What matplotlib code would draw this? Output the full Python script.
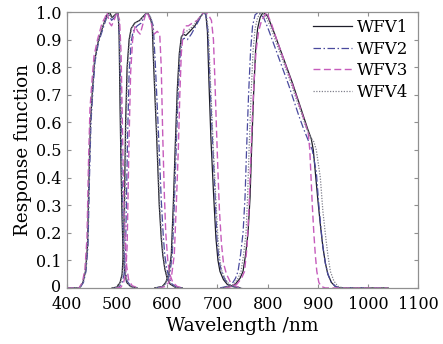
import matplotlib
matplotlib.use("Agg")
import matplotlib.pyplot as plt
import matplotlib.transforms as mtransforms

plt.rcParams['font.family'] = ['DejaVu Serif']
plt.rcParams['mathtext.fontset'] = 'dejavuserif'

series_names = ["WFV1", "WFV2", "WFV3", "WFV4"]
x_ticks = [400, 500, 600, 700, 800, 900, 1000, 1100]
y_ticks = [0, 0.1, 0.2, 0.3, 0.4, 0.5, 0.6, 0.7, 0.8, 0.9, 1.0]
y_tick_labels = ["0", "0.1", "0.2", "0.3", "0.4", "0.5", "0.6", "0.7", "0.8", "0.9", "1.0"]

# ---- WFV1 ----
wfv1_b1_wl = [400, 425, 432, 437, 441, 444, 447, 451, 455, 462, 472, 480, 485, 490, 496, 502, 504, 506, 508, 510, 512, 515, 519, 527, 540]
wfv1_b1_r = [0, 0, 0.02, 0.06, 0.15, 0.4, 0.6, 0.72, 0.82, 0.89, 0.95, 0.99, 1.0, 0.98, 0.99, 1.0, 0.92, 0.65, 0.42, 0.25, 0.13, 0.06, 0.02, 0.005, 0]
wfv1_b2_wl = [490, 500, 506, 510, 513, 515, 517, 520, 524, 528, 535, 545, 555, 560, 566, 570, 573, 576, 579, 584, 588, 591, 595, 599, 605, 615, 630]
wfv1_b2_r = [0, 0.003, 0.02, 0.05, 0.15, 0.35, 0.6, 0.8, 0.9, 0.94, 0.96, 0.97, 0.99, 1.0, 0.98, 0.95, 0.8, 0.67, 0.54, 0.3, 0.18, 0.12, 0.07, 0.04, 0.015, 0.003, 0]
wfv1_b3_wl = [575, 590, 597, 603, 608, 612, 616, 620, 624, 628, 632, 637, 645, 655, 665, 673, 677, 680, 683, 687, 692, 697, 701, 705, 712, 720, 730, 745]
wfv1_b3_r = [0, 0.005, 0.02, 0.05, 0.12, 0.3, 0.52, 0.72, 0.85, 0.91, 0.92, 0.915, 0.93, 0.95, 0.98, 1.0, 0.99, 0.93, 0.75, 0.54, 0.35, 0.18, 0.1, 0.06, 0.03, 0.012, 0.005, 0]
wfv1_b4_wl = [710, 725, 735, 745, 751, 756, 761, 765, 768, 772, 776, 780, 785, 791, 800, 810, 820, 830, 840, 850, 860, 870, 880, 887, 891, 895, 900, 905, 910, 915, 920, 927, 935, 945, 1040]
wfv1_b4_r = [0, 0.005, 0.012, 0.035, 0.06, 0.12, 0.2, 0.33, 0.5, 0.7, 0.86, 0.94, 0.98, 1.0, 0.985, 0.94, 0.89, 0.84, 0.79, 0.74, 0.685, 0.63, 0.575, 0.54, 0.5, 0.42, 0.32, 0.23, 0.15, 0.09, 0.05, 0.02, 0.005, 0, 0]

# ---- WFV2 ----
wfv2_b1_wl = [400, 426, 433, 438, 442, 445, 448, 452, 456, 463, 472, 479, 484, 489, 495, 501, 504, 507, 509, 511, 513, 516, 520, 528, 540]
wfv2_b1_r = [0, 0, 0.02, 0.06, 0.15, 0.4, 0.6, 0.72, 0.82, 0.89, 0.94, 0.98, 0.99, 0.97, 0.98, 1.0, 0.95, 0.75, 0.5, 0.3, 0.16, 0.07, 0.025, 0.005, 0]
wfv2_b2_wl = [495, 504, 510, 514, 517, 519, 521, 524, 528, 532, 540, 548, 556, 560, 567, 572, 576, 580, 583, 588, 592, 595, 599, 603, 609, 618, 630]
wfv2_b2_r = [0, 0.003, 0.02, 0.05, 0.15, 0.35, 0.55, 0.78, 0.89, 0.93, 0.95, 0.96, 0.99, 1.0, 0.98, 0.95, 0.82, 0.66, 0.54, 0.32, 0.19, 0.12, 0.07, 0.04, 0.015, 0.003, 0]
wfv2_b3_wl = [578, 592, 599, 605, 610, 614, 618, 622, 626, 630, 634, 640, 648, 657, 666, 672, 677, 681, 685, 690, 695, 699, 703, 708, 715, 723, 733, 745]
wfv2_b3_r = [0, 0.005, 0.02, 0.05, 0.12, 0.3, 0.52, 0.72, 0.85, 0.9, 0.905, 0.9, 0.92, 0.95, 0.98, 1.0, 0.99, 0.93, 0.75, 0.54, 0.35, 0.18, 0.1, 0.06, 0.03, 0.012, 0.005, 0]
wfv2_b4_wl = [705, 718, 728, 736, 741, 746, 751, 755, 758, 762, 766, 770, 775, 782, 792, 802, 812, 822, 832, 842, 852, 862, 872, 882, 889, 893, 897, 902, 906, 910, 915, 920, 927, 935, 945, 1040]
wfv2_b4_r = [0, 0.005, 0.012, 0.035, 0.06, 0.12, 0.2, 0.33, 0.5, 0.7, 0.86, 0.95, 0.99, 1.0, 0.98, 0.935, 0.885, 0.835, 0.785, 0.735, 0.68, 0.625, 0.575, 0.53, 0.5, 0.46, 0.42, 0.3, 0.22, 0.15, 0.09, 0.05, 0.02, 0.006, 0, 0]

# ---- WFV3 ----
wfv3_b1_wl = [400, 424, 431, 436, 440, 443, 446, 450, 454, 461, 470, 476, 480, 485, 489, 494, 500, 505, 508, 510, 512, 514, 516, 519, 523, 530, 542]
wfv3_b1_r = [0, 0, 0.02, 0.07, 0.18, 0.45, 0.65, 0.75, 0.84, 0.9, 0.96, 0.98, 1.0, 0.96, 0.95, 0.97, 1.0, 0.97, 0.85, 0.65, 0.45, 0.3, 0.18, 0.08, 0.03, 0.008, 0]
wfv3_b2_wl = [498, 508, 513, 517, 520, 522, 524, 527, 531, 536, 541, 546, 552, 558, 562, 568, 574, 580, 585, 588, 591, 594, 597, 601, 605, 611, 620, 632]
wfv3_b2_r = [0, 0.003, 0.02, 0.05, 0.15, 0.35, 0.55, 0.78, 0.9, 0.95, 0.93, 0.92, 0.96, 1.0, 0.99, 0.96, 0.92, 0.93, 0.92, 0.8, 0.55, 0.35, 0.2, 0.1, 0.05, 0.02, 0.005, 0]
wfv3_b3_wl = [582, 596, 603, 609, 614, 618, 622, 625, 628, 632, 636, 642, 650, 660, 668, 675, 682, 688, 692, 695, 698, 701, 704, 708, 712, 718, 726, 736, 750]
wfv3_b3_r = [0, 0.005, 0.02, 0.05, 0.12, 0.3, 0.5, 0.7, 0.85, 0.93, 0.95, 0.95, 0.96, 0.97, 0.99, 1.0, 0.99, 0.97, 0.9, 0.75, 0.58, 0.42, 0.28, 0.16, 0.09, 0.05, 0.02, 0.006, 0]
wfv3_b4_wl = [715, 728, 738, 748, 754, 759, 763, 766, 769, 773, 777, 782, 788, 798, 808, 818, 828, 838, 848, 858, 868, 876, 881, 884, 886, 889, 892, 895, 898, 902, 907, 915, 1040]
wfv3_b4_r = [0, 0.005, 0.012, 0.035, 0.06, 0.15, 0.3, 0.45, 0.6, 0.75, 0.86, 0.93, 0.97, 1.0, 0.955, 0.9, 0.85, 0.795, 0.745, 0.69, 0.635, 0.59, 0.56, 0.5, 0.42, 0.3, 0.2, 0.12, 0.06, 0.02, 0.005, 0, 0]

# ---- WFV4 ----
wfv4_b1_wl = [400, 425, 432, 437, 441, 444, 447, 451, 455, 462, 472, 480, 485, 490, 496, 502, 505, 507, 509, 511, 513, 516, 520, 528, 540]
wfv4_b1_r = [0, 0, 0.02, 0.06, 0.15, 0.4, 0.6, 0.72, 0.82, 0.89, 0.95, 0.98, 0.99, 0.98, 0.99, 1.0, 0.92, 0.65, 0.42, 0.25, 0.13, 0.06, 0.02, 0.005, 0]
wfv4_b2_wl = [491, 501, 507, 511, 514, 516, 518, 521, 525, 529, 536, 546, 556, 561, 567, 571, 574, 577, 580, 585, 589, 592, 596, 600, 606, 616, 630]
wfv4_b2_r = [0, 0.003, 0.02, 0.05, 0.15, 0.35, 0.6, 0.8, 0.9, 0.94, 0.96, 0.97, 0.99, 1.0, 0.98, 0.95, 0.8, 0.67, 0.54, 0.3, 0.18, 0.12, 0.07, 0.04, 0.015, 0.003, 0]
wfv4_b3_wl = [577, 591, 598, 604, 609, 613, 617, 621, 625, 629, 633, 638, 646, 656, 666, 674, 678, 682, 686, 691, 696, 701, 705, 709, 716, 724, 734, 748]
wfv4_b3_r = [0, 0.005, 0.02, 0.05, 0.12, 0.3, 0.52, 0.72, 0.85, 0.91, 0.925, 0.93, 0.94, 0.96, 0.985, 1.0, 0.99, 0.93, 0.75, 0.54, 0.35, 0.18, 0.1, 0.06, 0.03, 0.012, 0.005, 0]
wfv4_b4_wl = [708, 722, 732, 741, 747, 752, 757, 760, 763, 767, 771, 775, 780, 787, 796, 806, 816, 826, 836, 846, 856, 866, 876, 886, 892, 897, 901, 905, 910, 916, 920, 925, 932, 940, 950, 1040]
wfv4_b4_r = [0, 0.005, 0.012, 0.035, 0.06, 0.12, 0.2, 0.33, 0.5, 0.7, 0.86, 0.94, 0.98, 1.0, 0.985, 0.945, 0.895, 0.845, 0.795, 0.745, 0.69, 0.64, 0.585, 0.545, 0.53, 0.5, 0.45, 0.4, 0.28, 0.18, 0.12, 0.06, 0.025, 0.006, 0, 0]

series_bands = [
    [(wfv1_b1_wl, wfv1_b1_r), (wfv1_b2_wl, wfv1_b2_r), (wfv1_b3_wl, wfv1_b3_r), (wfv1_b4_wl, wfv1_b4_r)],
    [(wfv2_b1_wl, wfv2_b1_r), (wfv2_b2_wl, wfv2_b2_r), (wfv2_b3_wl, wfv2_b3_r), (wfv2_b4_wl, wfv2_b4_r)],
    [(wfv3_b1_wl, wfv3_b1_r), (wfv3_b2_wl, wfv3_b2_r), (wfv3_b3_wl, wfv3_b3_r), (wfv3_b4_wl, wfv3_b4_r)],
    [(wfv4_b1_wl, wfv4_b1_r), (wfv4_b2_wl, wfv4_b2_r), (wfv4_b3_wl, wfv4_b3_r), (wfv4_b4_wl, wfv4_b4_r)],
]

styles = [
    dict(color="#1e1e2a", linestyle="-", linewidth=0.9),
    dict(color="#4a4a9e", linestyle=(0, (6, 2, 1.2, 2)), linewidth=0.9),
    dict(color="#c65cbc", linestyle=(0, (5, 2.5)), linewidth=1.0),
    dict(color="#80808c", linestyle=(0, (1, 1.2)), linewidth=0.9),
]

fig = plt.figure(figsize=(4.43, 3.44), dpi=100)
ax = fig.add_axes([0.151, 0.163, 0.793, 0.802])

for name, bands, st in zip(series_names, series_bands, styles):
    for i, (wl, r) in enumerate(bands):
        ax.plot(wl, r, label=name if i == 0 else None, **st)

ax.set_xlim(400, 1100)
ax.set_ylim(0, 1.0)
ax.set_xticks(x_ticks)
ax.set_xticklabels([str(t) for t in x_ticks], fontsize=11.5)
ax.set_yticks(y_ticks)
ax.set_yticklabels(y_tick_labels, fontsize=11.5)
ax.tick_params(direction="in", length=3, color="#909090", top=True, right=True)
ax.tick_params(axis="x", pad=6)
ax.tick_params(axis="y", pad=4)
for s in ax.spines.values():
    s.set_color("#909090")
    s.set_linewidth(0.9)

# nudge the "0" y label slightly upward so it clears the "400" x label
zero_lbl = ax.get_yticklabels()[0]
zero_lbl.set_transform(zero_lbl.get_transform() +
                       mtransforms.ScaledTranslation(0, 2 / 72, fig.dpi_scale_trans))

ax.set_xlabel("Wavelength /nm", fontsize=13.5, labelpad=3)
ax.set_ylabel("Response function", fontsize=13.2, labelpad=3)

leg = ax.legend(loc="upper right", bbox_to_anchor=(1.0, 1.01), frameon=False, fontsize=12,
                handlelength=2.3, handletextpad=0.3, labelspacing=0.27, borderaxespad=0.2)

fig.savefig("out.png", dpi=100)
